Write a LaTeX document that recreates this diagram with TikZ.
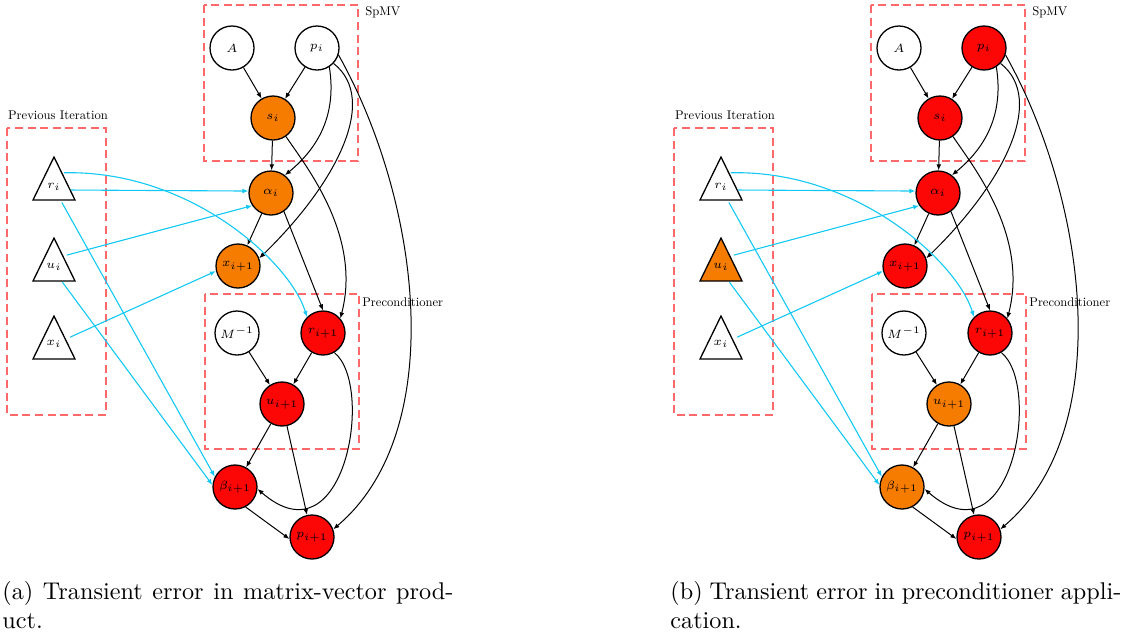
\documentclass[tikz,border=0pt]{standalone}
\usetikzlibrary{arrows.meta}
\definecolor{cor}{RGB}{246,124,0}
\definecolor{cre}{RGB}{252,6,6}
\definecolor{ccy}{RGB}{20,200,245}
\definecolor{cbox}{RGB}{255,105,105}
\font\labfont="[lmroman10-regular]:mapping=tex-text" at 6.3pt
\font\capfont="[lmroman10-regular]:mapping=tex-text" at 12.1pt
\newcommand\capset{\capfont\baselineskip=14.5pt\relax}
\newcommand\lbl{\fontsize{6.5}{8}\selectfont}
\tikzset{
 vnode/.style={circle, draw=black, line width=0.65pt, minimum size=22pt, inner sep=0pt, font=\lbl},
 tnode/.style={circle, minimum size=17pt, inner sep=0pt, font=\lbl},
 tri/.style={draw=black, line width=0.65pt, line join=miter},
 dbox/.style={draw=cbox, line width=0.6pt, dash pattern=on 4pt off 2.3pt},
 blk/.style={draw=black, line width=0.5pt, -{Latex[length=3pt,width=2.4pt]}},
 cyn/.style={draw=ccy, line width=0.55pt, -{Latex[length=3pt,width=2.4pt]}},
 lab/.style={font=\labfont, inner sep=0pt},
 captext/.style={font=\capset, text width=225.5pt, align=justify, anchor=north west, inner sep=0pt},
}
\newcommand\drawpanel[1]{%
 \draw[dbox] (204,5) rectangle (358,161);
 \draw[dbox] (205,294) rectangle (359,449);
 \draw[dbox] (7,128) rectangle (106,415);
 \node[lab, anchor=west] (#1spmv) at (365,12) {SpMV};
 \node[lab, anchor=west] (#1prec) at (362,302) {Preconditioner};
 \node[lab] (#1prev) at (58,115) {Previous Iteration};
 \draw[tri, fill=cri] (54,157) -- (33,200) -- (75,200) -- cycle;
 \draw[tri, fill=cui] (54,238) -- (33,281) -- (75,281) -- cycle;
 \draw[tri, fill=cxi] (54,316) -- (33,359) -- (75,359) -- cycle;
 \node[tnode] (#1ri) at (54,187) {$r_i$};
 \node[tnode] (#1ui) at (54,267) {$u_i$};
 \node[tnode] (#1xi) at (54,344) {$x_i$};
 \node[vnode, fill=white] (#1A) at (232,48) {$A$};
 \node[vnode, fill=cpi] (#1pi) at (317,48) {$p_i$};
 \node[vnode, fill=csi] (#1si) at (273,118) {$s_i$};
 \node[vnode, fill=cal] (#1al) at (271,193) {$\alpha_i$};
 \node[vnode, fill=cxa] (#1xa) at (238,266) {$x_{i+1}$};
 \node[vnode, fill=white] (#1M) at (237,333) {$M^{-1}$};
 \node[vnode, fill=cra] (#1ra) at (323,333) {$r_{i+1}$};
 \node[vnode, fill=cua] (#1ua) at (282,404) {$u_{i+1}$};
 \node[vnode, fill=cba] (#1ba) at (235,487) {$\beta_{i+1}$};
 \node[vnode, fill=cpa] (#1pa) at (312,537) {$p_{i+1}$};
 % black connectors
 \draw[blk] (#1A) -- (#1si);
 \draw[blk] (#1pi) -- (#1si);
 \draw[blk] (#1pi.-57) .. controls (337,115) and (318,148) .. (#1al.52);
 \draw[blk] (#1pi.-43) .. controls (380,100) and (335,185) .. (#1xa.20);
 \draw[blk] (#1pi.-18) .. controls (420,200) and (450,430) .. (#1pa.20);
 \draw[blk] (#1si) -- (#1al);
 \draw[blk] (#1si.-55) .. controls (305,165) and (362,235) .. (#1ra.40);
 \draw[blk] (#1al) -- (#1xa);
 \draw[blk] (#1al.-55) -- (#1ra.90);
 \draw[blk] (#1M) -- (#1ua);
 \draw[blk] (#1ra) -- (#1ua);
 \draw[blk] (#1ra.-60) .. controls (375,385) and (345,565) .. (#1ba.-5);
 \draw[blk] (#1ua) -- (#1ba);
 \draw[blk] (#1ua) -- (#1pa);
 \draw[blk] (#1ba.-62) -- (#1pa.185);
 % cyan connectors
 \draw[cyn] (#1ri.-10) -- (#1al.175);
 \draw[cyn] (#1ri.55) .. controls (190,170) and (290,262) .. (#1ra.135);
 \draw[cyn] (#1ri.-63) -- (#1ba.153);
 \draw[cyn] (#1ui.43) -- (#1al.214);
 \draw[cyn] (#1ui.-61) -- (#1ba.175);
 \draw[cyn] (#1xi.23) -- (#1xa.193);
}
\begin{document}
\begin{tikzpicture}[x=0.5pt, y=-0.5pt]
\useasboundingbox (0,0) rectangle (1127,633);
% panel (a)
\colorlet{cri}{white}\colorlet{cui}{white}\colorlet{cxi}{white}
\colorlet{cpi}{white}\colorlet{csi}{cor}\colorlet{cal}{cor}\colorlet{cxa}{cor}
\colorlet{cra}{cre}\colorlet{cua}{cre}\colorlet{cba}{cre}\colorlet{cpa}{cre}
\drawpanel{a}
\node[captext] (capa) at (2,581) {(a) Transient error in matrix-vector prod-\linebreak uct.};
% panel (b)
\begin{scope}[xshift=333.5pt]
\colorlet{cri}{white}\colorlet{cui}{cor}\colorlet{cxi}{white}
\colorlet{cpi}{cre}\colorlet{csi}{cre}\colorlet{cal}{cre}\colorlet{cxa}{cre}
\colorlet{cra}{cre}\colorlet{cua}{cor}\colorlet{cba}{cor}\colorlet{cpa}{cre}
\drawpanel{b}
\end{scope}
\node[captext] (capb) at (670,581) {(b) Transient error in preconditioner appli-\linebreak cation.};
\end{tikzpicture}
\end{document}
